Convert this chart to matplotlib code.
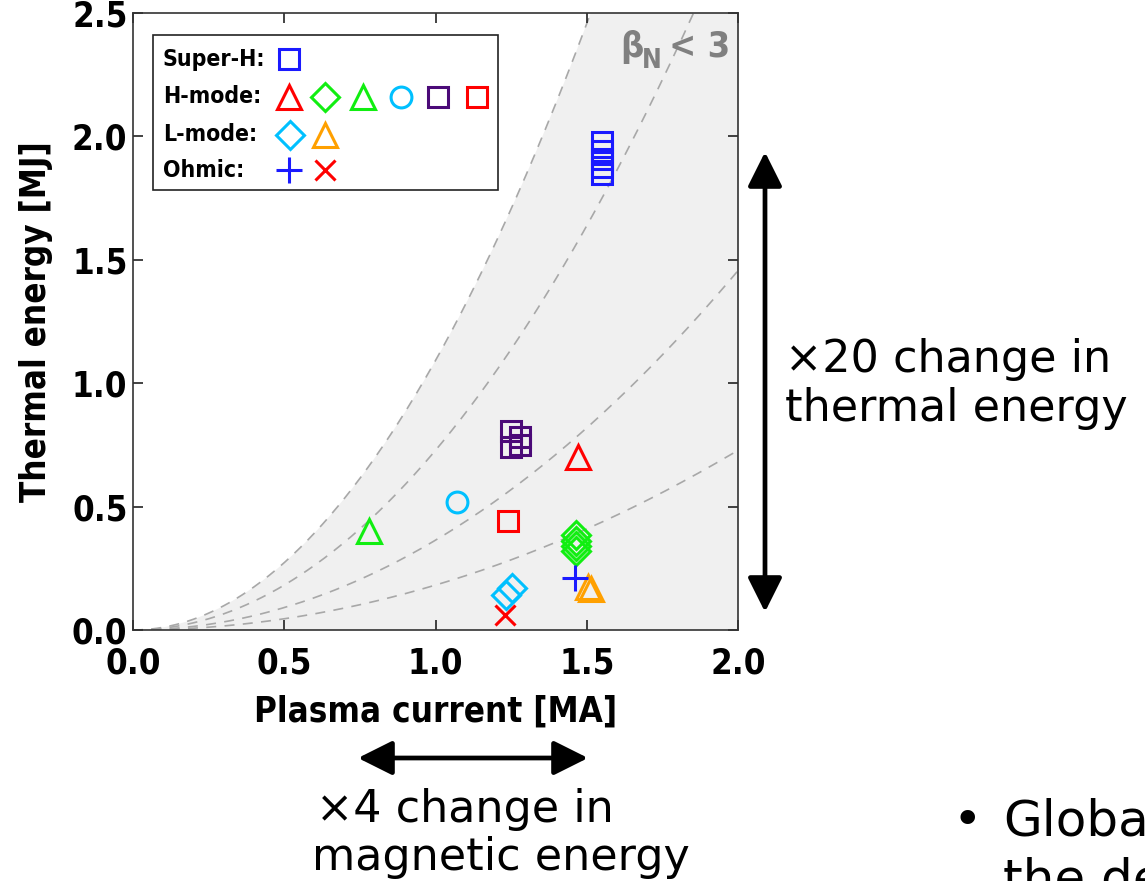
import numpy as np
import matplotlib.pyplot as plt
from matplotlib import font_manager
from matplotlib.patches import Rectangle, FancyArrowPatch

# shot data: plasma current [MA] vs stored thermal energy [MJ]
superh_sq_i = [1.55, 1.55, 1.55, 1.55, 1.55]
superh_sq_w = [1.976, 1.939, 1.907, 1.878, 1.846]

hmode_tri_red_i = [1.47]
hmode_tri_red_w = [0.70]
hmode_dia_green_i = [1.464, 1.464, 1.464, 1.464]
hmode_dia_green_w = [0.385, 0.362, 0.341, 0.320]
hmode_tri_green_i = [0.78]
hmode_tri_green_w = [0.40]
hmode_circ_cyan_i = [1.07]
hmode_circ_cyan_w = [0.52]
hmode_sq_purple_i = [1.251, 1.251, 1.279, 1.279]
hmode_sq_purple_w = [0.807, 0.742, 0.783, 0.751]
hmode_sq_red_i = [1.24]
hmode_sq_red_w = [0.44]

lmode_dia_cyan_i = [1.233, 1.253]
lmode_dia_cyan_w = [0.142, 0.170]
lmode_tri_orange_i = [1.505, 1.515]
lmode_tri_orange_w = [0.175, 0.165]

ohmic_plus_i = [1.46]
ohmic_plus_w = [0.21]
ohmic_x_i = [1.23]
ohmic_x_w = [0.06]

# beta_N contours, W = k * beta_N * Ip^2
beta_n_levels = [0.5, 1, 2, 3]
k_beta = 0.364

BLUE = '#1a1aff'
RED = '#ff0000'
GREEN = '#11ee11'
CYAN = '#00c0ff'
PURPLE = '#4b0a78'
ORANGE = '#ffa000'

# narrow bold face for the plot itself
names = {f.name for f in font_manager.fontManager.ttflist}
if 'Liberation Sans Narrow' in names:
    plt.rcParams['font.family'] = 'Liberation Sans Narrow'
else:
    plt.rcParams['font.family'] = 'DejaVu Sans'
    plt.rcParams['font.stretch'] = 'condensed'
plt.rcParams['font.weight'] = 'bold'
slide_font = 'DejaVu Sans'

W, H = 1145, 881
fig = plt.figure(figsize=(W / 100, H / 100), dpi=100)
ax = fig.add_axes([133 / W, 1 - 630 / H, 605 / W, 617 / H])

ip = np.linspace(0, 2.0, 400)
ax.fill_between(ip, 0, k_beta * 3 * ip ** 2, color='#f0f0f0', lw=0, zorder=0)
for bn in beta_n_levels:
    ax.plot(ip, k_beta * bn * ip ** 2, color='#a8a8a8', lw=1.2,
            dashes=(6, 5), zorder=1)

mew = 2.2


def pts(x, y, marker, color, size):
    ax.plot(x, y, ls='none', marker=marker, ms=size, mfc='none',
            mec=color, mew=mew, zorder=3)


pts(superh_sq_i, superh_sq_w, 's', BLUE, 14.5)
pts(hmode_tri_red_i, hmode_tri_red_w, '^', RED, 17)
pts(hmode_dia_green_i, hmode_dia_green_w, 'D', GREEN, 14.5)
pts(hmode_tri_green_i, hmode_tri_green_w, '^', GREEN, 17)
pts(hmode_circ_cyan_i, hmode_circ_cyan_w, 'o', CYAN, 15)
pts(hmode_sq_purple_i, hmode_sq_purple_w, 's', PURPLE, 14.5)
pts(hmode_sq_red_i, hmode_sq_red_w, 's', RED, 14.5)
pts(lmode_dia_cyan_i, lmode_dia_cyan_w, 'D', CYAN, 14.5)
pts(lmode_tri_orange_i, lmode_tri_orange_w, '^', ORANGE, 17)
pts(ohmic_plus_i, ohmic_plus_w, '+', BLUE, 19)
pts(ohmic_x_i, ohmic_x_w, 'x', RED, 14.5)

ax.set_xlim(0, 2.0)
ax.set_ylim(0, 2.5)
ax.set_xticks([0, 0.5, 1.0, 1.5, 2.0])
ax.set_yticks([0, 0.5, 1.0, 1.5, 2.0, 2.5])
ax.set_xticklabels(['0.0', '0.5', '1.0', '1.5', '2.0'])
ax.set_yticklabels(['0.0', '0.5', '1.0', '1.5', '2.0', '2.5'])
ax.tick_params(direction='in', length=7, width=1.2, top=True, right=True,
               labelsize=25, color='#222222')
ax.tick_params(axis='x', pad=12)
ax.tick_params(axis='y', pad=4)
for s in ax.spines.values():
    s.set_linewidth(1.2)
    s.set_color('#333333')

ax.set_xlabel('Plasma current [MA]', fontsize=25, fontweight='bold')
ax.set_ylabel('Thermal energy [MJ]', fontsize=25, fontweight='bold')
ax.xaxis.set_label_coords(0.5, (630 - 695) / 617)
ax.yaxis.set_label_coords((53 - 133) / 605, 0.5)

# beta_N limit label
grey = '#808080'
ax.text(0.805, 0.9287, 'β', transform=ax.transAxes, fontsize=26,
        color=grey, ha='left', va='baseline')
ax.text(0.841, 0.9109, 'N', transform=ax.transAxes, fontsize=19,
        color=grey, ha='left', va='baseline')
ax.text(0.886, 0.9287, '< 3', transform=ax.transAxes, fontsize=26,
        color=grey, ha='left', va='baseline')

# hand-made legend box
ax.add_patch(Rectangle((0.033, 0.713), 0.570, 0.251, transform=ax.transAxes,
                       fc='white', ec='#222222', lw=1.2, zorder=5))
rows = [
    ('Super-H:', 0.925, [('s', BLUE, 14.5, 0.258)]),
    ('H-mode:', 0.864, [('^', RED, 17, 0.258), ('D', GREEN, 14.5, 0.317),
                        ('^', GREEN, 17, 0.380), ('o', CYAN, 15, 0.443),
                        ('s', PURPLE, 14.5, 0.504), ('s', RED, 14.5, 0.569)]),
    ('L-mode:', 0.803, [('D', CYAN, 14.5, 0.259), ('^', ORANGE, 17, 0.318)]),
    ('Ohmic:', 0.745, [('+', BLUE, 19, 0.258), ('x', RED, 14.5, 0.318)]),
]
for label, y, marks in rows:
    ax.text(0.049, y, label, transform=ax.transAxes, fontsize=16.5,
            ha='left', va='center', zorder=6)
    for m, c, size, x in marks:
        ax.plot([x], [y], transform=ax.transAxes, ls='none', marker=m,
                ms=size, mfc='none', mec=c, mew=mew, zorder=6, clip_on=False)

# double arrows outside the plot
arrow_kw = dict(arrowstyle='<|-|>,head_length=21,head_width=10.5',
                color='black', lw=3.4, mutation_scale=1,
                shrinkA=0, shrinkB=0, transform=fig.transFigure)
fig.patches.append(FancyArrowPatch((765 / W, 1 - 612 / H), (765 / W, 1 - 152 / H),
                                   **arrow_kw))
fig.patches.append(FancyArrowPatch((358 / W, 1 - 758 / H), (588 / W, 1 - 758 / H),
                                   **arrow_kw))

txt = dict(family=slide_font, fontweight='normal', stretch='normal',
           fontsize=32, color='black', ha='left', va='baseline')
fig.text(785 / W, 1 - 372 / H, '×20 change in', **txt)
fig.text(785 / W, 1 - 421 / H, 'thermal energy', **txt)
fig.text(316 / W, 1 - 822 / H, '×4 change in', **txt)
fig.text(312 / W, 1 - 870 / H, 'magnetic energy', **txt)

txt['fontsize'] = 36
fig.text(952 / W, 1 - 835 / H, '•', **txt)
fig.text(1003 / W, 1 - 835 / H, 'Global', **txt)
fig.text(1003 / W, 1 - 895 / H, 'the dependence', **txt)

fig.savefig('out.png', dpi=100)
